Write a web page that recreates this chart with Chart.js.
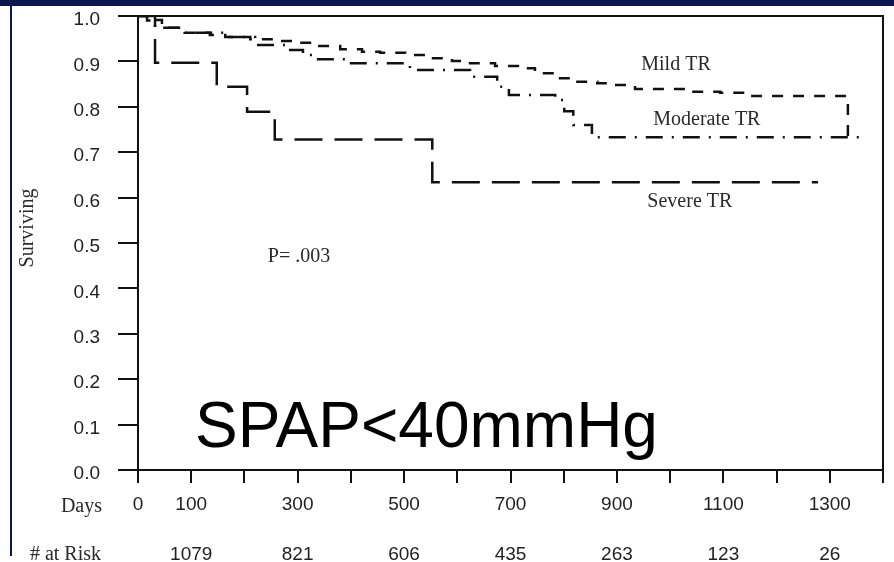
<!DOCTYPE html>
<html>
<head>
<meta charset="utf-8">
<title>Surviving by TR grade</title>
<script src="https://cdn.jsdelivr.net/npm/chart.js@4.4.1/dist/chart.umd.min.js"></script>
<style>
    html, body { margin: 0; padding: 0; background: #fff; }
    #wrap { position: relative; width: 894px; height: 562px; overflow: hidden; }
    #survivalChart { position: absolute; left: 0; top: 0; }
    .bar-top { position: absolute; left: 0; top: 0; width: 894px; height: 6px; background: #0a1650; }
    .bar-left { position: absolute; left: 10px; top: 0; width: 2px; height: 556px; background: #0a1650; }
</style>
</head>
<body>
<div id="wrap">
    <canvas id="survivalChart" width="894" height="562"></canvas>
    <div class="bar-top"></div>
    <div class="bar-left"></div>
</div>
<script>
// Kaplan-Meier steps: day of each drop and the survival after it
const mildDays = [0, 17, 45, 88, 135, 164, 211, 258, 301, 338, 380, 421, 455, 502, 545, 590, 624, 671, 714, 746, 784, 816, 863, 896, 934, 1037, 1094, 1150, 1334];
const mildSurv = [1.0, 0.991, 0.974, 0.963, 0.958, 0.954, 0.949, 0.945, 0.941, 0.934, 0.927, 0.921, 0.919, 0.914, 0.907, 0.901, 0.896, 0.890, 0.885, 0.874, 0.863, 0.855, 0.852, 0.848, 0.839, 0.833, 0.831, 0.824, 0.733];

const moderateDays = [0, 17, 32, 88, 164, 220, 286, 310, 329, 393, 511, 624, 675, 697, 784, 801, 818, 853, 1361];
const moderateSurv = [1.0, 0.99, 0.974, 0.963, 0.954, 0.936, 0.925, 0.914, 0.905, 0.896, 0.881, 0.866, 0.844, 0.826, 0.815, 0.79, 0.76, 0.733, 0.733];

const severeDays = [0, 32, 148, 205, 257, 553, 1278];
const severeSurv = [1.0, 0.897, 0.844, 0.789, 0.728, 0.634, 0.634];

// x axis labels and patients at risk
const dayLabels = [0, 100, 300, 500, 700, 900, 1100, 1300];
const riskDays = [100, 300, 500, 700, 900, 1100, 1300];
const riskCounts = [1079, 821, 606, 435, 263, 123, 26];

const sans = "'Liberation Sans', Arial, sans-serif";
const serif = "'Liberation Serif', 'Times New Roman', serif";

function toPoints(days, surv) {
    return days.map((d, i) => ({ x: d, y: surv[i] }));
}

function curve(label, days, surv, dash) {
    return {
        label: label,
        data: toPoints(days, surv),
        stepped: true,
        borderColor: '#111',
        borderWidth: 2.5,
        borderDash: dash,
        pointRadius: 0,
        fill: false
    };
}

// no extra room around the axes, the box sizes are fixed
function noPadding(s) {
    s.paddingTop = 0;
    s.paddingBottom = 0;
    s.paddingLeft = 0;
    s.paddingRight = 0;
}

// frame and texts written on the plot
const plotText = {
    id: 'plotText',
    afterDraw(chart) {
        const ctx = chart.ctx;
        const a = chart.chartArea;
        const x = chart.scales.x;
        const y = chart.scales.y;
        ctx.save();
        ctx.strokeStyle = '#111';
        ctx.lineWidth = 2;
        ctx.strokeRect(a.left, a.top, a.right - a.left, a.bottom - a.top);

        ctx.fillStyle = '#2a2a2a';
        ctx.font = '20px ' + serif;
        ctx.textBaseline = 'alphabetic';
        ctx.textAlign = 'center';
        ctx.fillText('Mild TR', x.getPixelForValue(1011), y.getPixelForValue(0.882));
        ctx.fillText('Moderate TR', x.getPixelForValue(1069), y.getPixelForValue(0.760));
        ctx.fillText('Severe TR', x.getPixelForValue(1037), y.getPixelForValue(0.580));
        ctx.textAlign = 'left';
        ctx.fillText('P= .003', x.getPixelForValue(244), y.getPixelForValue(0.458));

        ctx.textAlign = 'right';
        ctx.fillText('Days', 102, 512);
        ctx.fillText('# at Risk', 101, 560);

        ctx.translate(28, 228);
        ctx.rotate(-Math.PI / 2);
        ctx.textAlign = 'center';
        ctx.textBaseline = 'middle';
        ctx.fillText('Surviving', 0, 0);
        ctx.setTransform(1, 0, 0, 1, 0, 0);

        ctx.fillStyle = '#000';
        ctx.font = '64px ' + sans;
        ctx.textAlign = 'left';
        ctx.textBaseline = 'alphabetic';
        ctx.fillText('SPAP<40mmHg', x.getPixelForValue(107), y.getPixelForValue(0.05));
        ctx.restore();
    }
};

const survivalChart = new Chart(document.getElementById('survivalChart'), {
    type: 'line',
    data: {
        datasets: [
            curve('Mild TR', mildDays, mildSurv, [11, 10]),
            curve('Moderate TR', moderateDays, moderateSurv, [17, 9, 2, 9]),
            curve('Severe TR', severeDays, severeSurv, [28, 12])
        ]
    },
    options: {
        responsive: false,
        animation: false,
        events: [],
        layout: { padding: { top: 16, right: 11, left: 0, bottom: 0 } },
        plugins: {
            legend: { display: false },
            tooltip: { enabled: false }
        },
        scales: {
            x: {
                type: 'linear',
                position: 'bottom',
                weight: 0,
                min: 0,
                max: 1400,
                afterFit: s => { s.height = 50; noPadding(s); },
                afterBuildTicks: s => {
                    s.ticks = [];
                    for (let d = 0; d <= 1400; d += 100) s.ticks.push({ value: d });
                },
                ticks: {
                    autoSkip: false,
                    maxRotation: 0,
                    padding: 10,
                    color: '#222',
                    font: { family: sans, size: 19 },
                    callback: v => dayLabels.includes(v) ? String(v) : ''
                },
                grid: { drawOnChartArea: false, tickLength: 13, color: '#111', lineWidth: 2 },
                border: { color: '#111', width: 2 }
            },
            risk: {
                type: 'linear',
                position: 'bottom',
                weight: 1,
                min: 0,
                max: 1400,
                afterFit: s => { s.height = 42; noPadding(s); },
                afterBuildTicks: s => {
                    s.ticks = riskDays.map(d => ({ value: d }));
                },
                ticks: {
                    autoSkip: false,
                    maxRotation: 0,
                    padding: 23,
                    color: '#222',
                    font: { family: sans, size: 19 },
                    callback: v => {
                        const i = riskDays.indexOf(v);
                        return i >= 0 ? String(riskCounts[i]) : '';
                    }
                },
                grid: { display: false, drawTicks: false },
                border: { display: false }
            },
            y: {
                min: 0,
                max: 1,
                afterFit: s => { s.width = 138; noPadding(s); },
                ticks: {
                    stepSize: 0.1,
                    padding: 18,
                    labelOffset: 4,
                    color: '#222',
                    font: { family: sans, size: 19 },
                    callback: v => v.toFixed(1)
                },
                grid: { drawOnChartArea: false, tickLength: 20, color: '#111', lineWidth: 2 },
                border: { color: '#111', width: 2 }
            }
        }
    },
    plugins: [plotText]
});
</script>
</body>
</html>
